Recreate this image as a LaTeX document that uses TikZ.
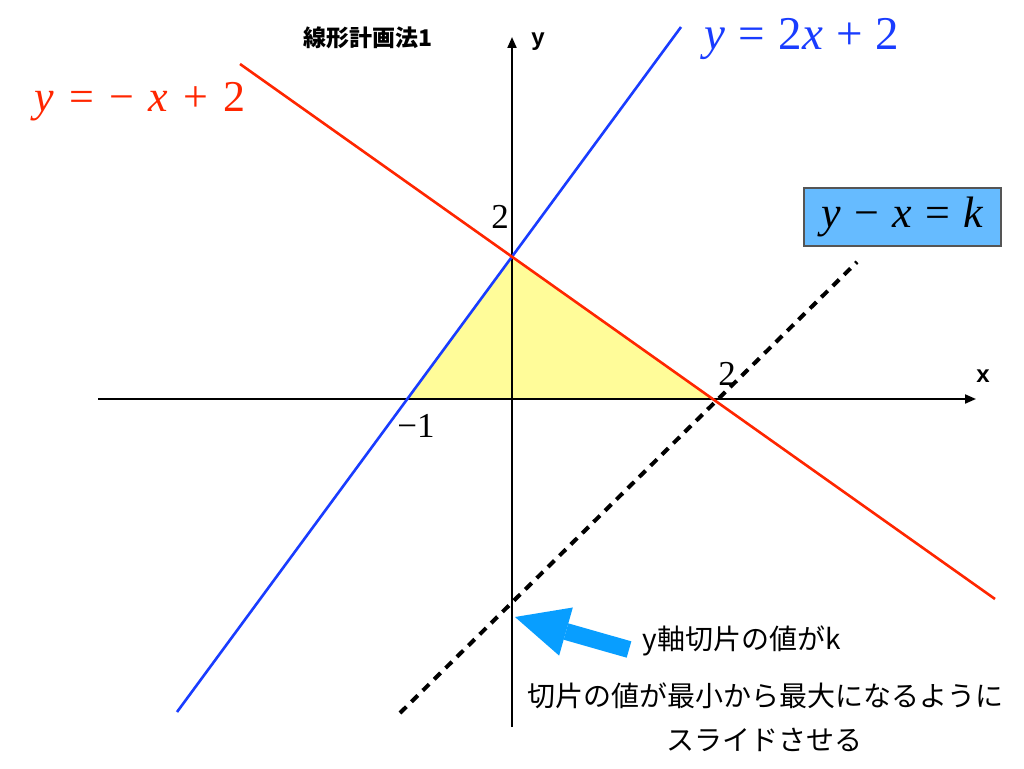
\documentclass[tikz,border=0pt]{standalone}
\usepackage{fontspec}
\setmainfont{Liberation Serif}
\newfontfamily\jp{Noto Sans CJK JP}
\newfontfamily\hv{Liberation Sans}
\usetikzlibrary{arrows.meta}
\definecolor{lineblue}{RGB}{25,60,255}
\definecolor{linered}{RGB}{255,38,0}
\definecolor{regionyellow}{RGB}{255,252,153}
\definecolor{boxblue}{RGB}{102,187,255}
\definecolor{boxedge}{RGB}{85,85,85}
\definecolor{arrowblue}{RGB}{8,158,255}
\newcommand\mysp{\hskip0.28em\relax}
\newcommand\mybsp{\hskip0.34em\relax}
\newcommand\myksp{\hskip0.3em\relax}
\begin{document}
\begin{tikzpicture}[x=1pt,y=-1pt,
  axisline/.style={line width=2pt,black,-{Triangle[length=11pt,width=9pt]}},
  graphblue/.style={line width=2.6pt,lineblue},
  graphred/.style={line width=2.6pt,linered},
  slideline/.style={line width=4pt,black,dash pattern=on 9pt off 7pt},
  numlabel/.style={inner sep=0pt,font=\fontsize{35}{38}\selectfont},
  axislabel/.style={inner sep=0pt,font=\hv\bfseries\fontsize{24}{26}\selectfont},
  jptext/.style={inner sep=0pt,font=\jp\fontsize{28}{32}\selectfont},
  kbox/.style={draw=boxedge,line width=2pt,fill=boxblue,minimum width=197pt,minimum height=58pt,inner sep=0pt,font=\fontsize{44}{48}\selectfont}
]
\useasboundingbox (0,0) rectangle (1024,768);
\fill[white] (0,0) rectangle (1024,768);

% key points
\coordinate (A) at (408,399);
\coordinate (B) at (512,258);
\coordinate (C) at (714,399);
\coordinate (xstart) at (98,399);
\coordinate (xend) at (976,399);
\coordinate (ystart) at (512,727);
\coordinate (yend) at (512,37);
\coordinate (b1) at (177,712);
\coordinate (b2) at (681,27);
\coordinate (r1) at (240,64);
\coordinate (r2) at (995,599);
\coordinate (d1) at (400,713);
\coordinate (d2) at (857,262);
\coordinate (kint) at (515,617);
\coordinate (arrtail) at (629,649.5);

% feasible region
\fill[regionyellow] (A) -- (B) -- (C) -- cycle;

% axes
\draw[axisline] (xstart) -- (xend);
\draw[axisline] (ystart) -- (yend);

% lines
\draw[slideline] (d1) -- (d2);
\draw[graphblue] (b1) -- (b2);
\draw[graphred] (r1) -- (r2);

% labels
\node[inner sep=0pt,text=lineblue,font=\fontsize{47}{50}\selectfont] (eqblue) at (802,39)
  {\textit{y}\mysp=\mysp2\textit{x}\mysp+\mysp2};
\node[inner sep=0pt,text=linered,font=\fontsize{44}{48}\selectfont] (eqred) at (140,102)
  {\textit{y}\mybsp=\mybsp−\mybsp\textit{x}\mybsp+\mybsp2};
\node[kbox] (eqk) at (902.5,217)
  {\textit{y}\myksp−\myksp\textit{x}\myksp=\myksp\textit{k}};

\node[numlabel] (ytwo) at (500,217) {2};
\node[numlabel] (xtwo) at (727,374) {2};
\node[numlabel] (xmone) at (416,426) {−1};

\node[axislabel] (xlab) at (983,376) {x};
\node[axislabel] (ylab) at (538,42) {y};
\node[inner sep=0pt,font=\jp\bfseries\fontsize{23}{26}\selectfont] (title) at (368,38) {線形計画法1};

\node[jptext] (note1) at (742,641) {y軸切片の値がk};
\node[jptext] (note2) at (765,696) {切片の値が最小から最大になるように};
\node[jptext] (note3) at (764,740) {スライドさせる};

% pointer arrow
\draw[arrowblue,line width=17pt,-{Triangle[length=53pt,width=50pt,line width=0pt]}] (arrtail) -- (kint);
\end{tikzpicture}
\end{document}
